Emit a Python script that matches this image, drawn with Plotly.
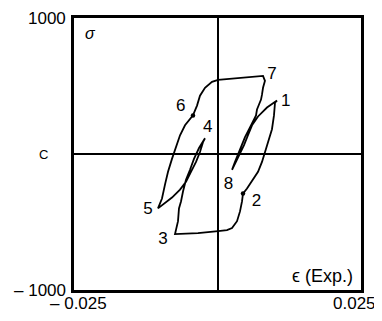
import plotly.graph_objects as go

# hysteresis path, traced in order 8 -> 1 -> 2 -> 3 -> 4 -> 5 -> 6 -> 7 -> 8
strain = [
    0.00253, 0.00322, 0.00392, 0.00462, 0.00531, 0.00601, 0.00706, 0.00862, 0.01037,
    0.01002, 0.00984, 0.00949, 0.00880, 0.00827, 0.00775, 0.00706, 0.00653, 0.00601,
    0.00514, 0.00444, 0.00427, 0.00392, 0.00340, 0.00253, 0.00165, 0.00010, -0.00340,
    -0.00740,
    -0.00688, -0.00671, -0.00636, -0.00601, -0.00549, -0.00479, -0.00410, -0.00322,
    -0.00253, -0.00218,
    -0.00253, -0.00305, -0.00374, -0.00462, -0.00549, -0.00653, -0.00793, -0.01037,
    -0.00967, -0.00915, -0.00862, -0.00793, -0.00740, -0.00653, -0.00566, -0.00479,
    -0.00427, -0.00357, -0.00305, -0.00218, -0.00096, 0.00010, 0.00392, 0.00793,
    0.00827, 0.00793, 0.00775, 0.00758, 0.00723, 0.00688, 0.00671, 0.00618, 0.00566,
    0.00479, 0.00427, 0.00357, 0.00305, 0.00253,
]
stress = [
    -116, -58, 0, 65, 138, 211, 276, 342, 393,
    378, 284, 182, 87, 15, -58, -131, -167, -204,
    -254, -291, -349, -422, -494, -545, -560, -567, -582,
    -589,
    -494, -400, -349, -276, -189, -116, -36, 44,
    95, 116,
    87, 15, -58, -131, -204, -262, -320, -400,
    -327, -225, -131, -36, 36, 138, 211, 254,
    284, 356, 429, 487, 531, 545, 560, 574,
    538, 487, 436, 400, 364, 327, 284, 233, 196,
    124, 65, 0, -58, -116,
]

# small arrow marks on the curve
mark_strain = [0.00444, -0.00427]
mark_stress = [-291, 284]

# point numbers
label_text = ["1", "2", "3", "4", "5", "6", "7", "8"]
label_strain = [0.0119, 0.0068, -0.0095, -0.0017, -0.0121, -0.0064, 0.0095, 0.0019]
label_stress = [385, -349, -633, 196, -407, 349, 585, -228]

x_ticks = [-0.025, 0.025]
x_ticktext = ["\u2013 0.025", "0.025"]
y_ticks = [-1000, 1000]
y_ticktext = ["\u2013 1000", "1000"]

FONT = "Liberation Sans, Arial, sans-serif"

fig = go.Figure()

fig.add_trace(go.Scatter(
    x=strain,
    y=stress,
    mode="lines",
    line=dict(color="black", width=1.8),
    hoverinfo="skip",
))

fig.add_trace(go.Scatter(
    x=mark_strain,
    y=mark_stress,
    mode="markers",
    marker=dict(color="black", size=4.5),
    hoverinfo="skip",
))

fig.add_trace(go.Scatter(
    x=label_strain,
    y=label_stress,
    mode="text",
    text=label_text,
    textfont=dict(family=FONT, size=17, color="black"),
    hoverinfo="skip",
))

annotations = [
    dict(x=x_ticks[0], y=0, xref="x", yref="paper", text=x_ticktext[0],
         xanchor="center", yanchor="top", yshift=-2, xshift=4),
    dict(x=x_ticks[1], y=0, xref="x", yref="paper", text=x_ticktext[1],
         xanchor="right", yanchor="top", yshift=-2, xshift=17),
    dict(x=-0.025, y=y_ticks[1], xref="x", yref="y", text=y_ticktext[1],
         xanchor="right", yanchor="middle", xshift=-6),
    dict(x=-0.025, y=y_ticks[0], xref="x", yref="y", text=y_ticktext[0],
         xanchor="right", yanchor="middle", xshift=-6),
    dict(x=-0.025, y=0, xref="x", yref="y", text="C",
         xanchor="center", yanchor="middle", xshift=-31, font=dict(size=13)),
    dict(x=-0.025, y=1000, xref="x", yref="y", text="<i>\u03c3</i>",
         xanchor="left", yanchor="top", xshift=9, yshift=-5, font=dict(size=16)),
    dict(x=0.025, y=-1000, xref="x", yref="y", text="\u03f5 (Exp.)",
         xanchor="right", yanchor="bottom", xshift=-6, yshift=2, font=dict(size=18)),
]
for a in annotations:
    a.setdefault("showarrow", False)
    a.setdefault("font", dict(size=17))

# the page adds an 8 px body margin, so the figure is 8 px smaller each way
fig.update_layout(
    width=374,
    height=313,
    margin=dict(l=66, r=21, t=7, b=31),
    paper_bgcolor="white",
    plot_bgcolor="white",
    showlegend=False,
    font=dict(family=FONT, size=17, color="black"),
    annotations=annotations,
    xaxis=dict(
        range=[-0.025, 0.025], showgrid=False, showticklabels=False, ticks="",
        showline=True, mirror=True, linecolor="black", linewidth=2.5,
        zeroline=True, zerolinecolor="black", zerolinewidth=2,
    ),
    yaxis=dict(
        range=[-1000, 1000], showgrid=False, showticklabels=False, ticks="",
        showline=True, mirror=True, linecolor="black", linewidth=2.5,
        zeroline=True, zerolinecolor="black", zerolinewidth=2,
    ),
)

fig.write_html("out.html")
